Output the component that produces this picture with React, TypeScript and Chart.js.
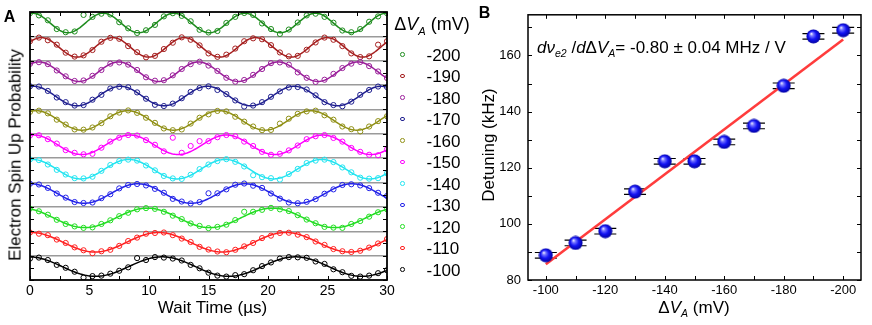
import React, { useEffect, useRef } from "react";
import { Chart, registerables } from "chart.js";
Chart.register(...registerables);

const FONT = '"Liberation Sans", Arial, Helvetica, sans-serif';

// ---------------- Panel A data ----------------
// series from bottom strip to top strip
const voltages = [-100, -110, -120, -130, -140, -150, -160, -170, -180, -190, -200];
const seriesColors = ["#000000", "#ff2020", "#22dd22", "#2323e8", "#22e4f0", "#ff00ff", "#8f8f14", "#1f1f8f", "#9a1f9a", "#a51e1e", "#1e8c1e"];
const waitTimes = [0, 0.75, 1.5, 2.25, 3, 3.75, 4.5, 5.25, 6, 6.75, 7.5, 8.25, 9, 9.75, 10.5, 11.25, 12, 12.75, 13.5, 14.25, 15, 15.75, 16.5, 17.25, 18, 18.75, 19.5, 20.25, 21, 21.75, 22.5, 23.25, 24, 24.75, 25.5, 26.25, 27, 27.75, 28.5, 29.25, 30];
const probM100 = [0.88, 0.92, 0.82, 0.62, 0.50, 0.34, 0.10, 0.16, 0.18, 0.26, 0.38, 0.52, 0.90, 0.82, 0.94, 0.92, 0.88, 0.80, 0.62, 0.48, 0.30, 0.18, 0.14, 0.20, 0.24, 0.40, 0.57, 0.72, 0.88, 0.94, 0.93, 0.91, 0.76, 0.66, 0.44, 0.32, 0.17, 0.14, 0.18, 0.28, 0.40];
const probM110 = [0.95, 0.90, 0.84, 0.66, 0.52, 0.34, 0.22, 0.10, 0.18, 0.24, 0.40, 0.60, 0.74, 0.90, 0.93, 0.95, 0.84, 0.70, 0.56, 0.36, 0.25, 0.17, 0.14, 0.24, 0.38, 0.52, 0.72, 0.82, 0.93, 0.94, 0.86, 0.76, 0.58, 0.44, 0.27, 0.18, 0.15, 0.20, 0.33, 0.50, 0.68];
const probM120 = [0.93, 0.82, 0.68, 0.47, 0.30, 0.20, 0.14, 0.16, 0.30, 0.45, 0.62, 0.76, 0.90, 0.95, 0.92, 0.80, 0.64, 0.50, 0.32, 0.22, 0.13, 0.18, 0.27, 0.46, 0.80, 0.80, 0.88, 0.96, 0.90, 0.83, 0.66, 0.48, 0.33, 0.18, 0.15, 0.14, 0.30, 0.42, 0.60, 0.78, 0.90];
const probM130 = [0.95, 0.92, 0.78, 0.55, 0.38, 0.20, 0.16, 0.18, 0.36, 0.52, 0.76, 0.90, 0.94, 0.88, 0.74, 0.58, 0.33, 0.22, 0.14, 0.20, 0.56, 0.56, 0.72, 0.91, 0.96, 0.87, 0.78, 0.55, 0.34, 0.18, 0.15, 0.21, 0.32, 0.54, 0.72, 0.90, 0.93, 0.88, 0.77, 0.58, 0.45];
const probM140 = [0.95, 0.92, 0.74, 0.52, 0.33, 0.18, 0.17, 0.24, 0.48, 0.72, 0.88, 0.94, 0.90, 0.70, 0.50, 0.27, 0.17, 0.15, 0.32, 0.55, 0.74, 0.88, 0.96, 0.85, 0.66, 0.30, 0.22, 0.18, 0.12, 0.35, 0.56, 0.80, 0.90, 0.94, 0.84, 0.62, 0.42, 0.20, 0.16, 0.18, 0.38];
const probM150 = [0.93, 0.94, 0.78, 0.60, 0.33, 0.22, 0.16, 0.18, 0.43, 0.68, 0.84, 0.95, 0.93, 0.74, 0.55, 0.28, 0.84, 0.22, 0.50, 0.70, 0.70, 0.86, 0.95, 0.90, 0.68, 0.50, 0.26, 0.14, 0.18, 0.32, 0.52, 0.78, 0.90, 0.95, 0.83, 0.68, 0.42, 0.26, 0.14, 0.12, 0.36];
const probM160 = [0.90, 0.95, 0.84, 0.58, 0.38, 0.18, 0.17, 0.26, 0.44, 0.72, 0.87, 0.96, 0.86, 0.66, 0.45, 0.22, 0.15, 0.18, 0.42, 0.66, 0.80, 0.94, 0.92, 0.70, 0.50, 0.30, 0.15, 0.16, 0.42, 0.62, 0.82, 0.92, 0.95, 0.76, 0.58, 0.30, 0.19, 0.10, 0.30, 0.52, 0.72];
const probM170 = [0.95, 0.94, 0.76, 0.49, 0.30, 0.16, 0.18, 0.40, 0.60, 0.86, 0.93, 0.91, 0.70, 0.44, 0.19, 0.14, 0.24, 0.46, 0.72, 0.88, 0.95, 0.80, 0.63, 0.37, 0.12, 0.16, 0.30, 0.52, 0.74, 0.90, 0.92, 0.82, 0.58, 0.30, 0.18, 0.13, 0.32, 0.60, 0.80, 0.94, 0.92];
const probM180 = [0.87, 0.94, 0.86, 0.60, 0.36, 0.17, 0.19, 0.38, 0.62, 0.88, 0.93, 0.84, 0.62, 0.32, 0.18, 0.20, 0.40, 0.66, 0.86, 0.96, 0.80, 0.58, 0.30, 0.14, 0.21, 0.42, 0.66, 0.90, 0.93, 0.84, 0.52, 0.30, 0.13, 0.22, 0.46, 0.70, 0.88, 0.95, 0.78, 0.56, 0.29];
const probM190 = [0.80, 0.95, 0.84, 0.66, 0.33, 0.17, 0.22, 0.44, 0.78, 0.94, 0.90, 0.60, 0.35, 0.14, 0.20, 0.48, 0.74, 0.96, 0.86, 0.63, 0.30, 0.16, 0.25, 0.50, 0.80, 0.92, 0.88, 0.64, 0.34, 0.18, 0.20, 0.45, 0.75, 0.95, 0.86, 0.60, 0.30, 0.15, 0.18, 0.66, 0.80];
const probM200 = [0.95, 0.86, 0.66, 0.30, 0.17, 0.20, 0.88, 0.80, 0.93, 0.90, 0.58, 0.33, 0.14, 0.25, 0.47, 0.82, 0.95, 0.84, 0.62, 0.27, 0.16, 0.22, 0.55, 0.80, 0.96, 0.88, 0.53, 0.30, 0.10, 0.28, 0.57, 0.86, 0.93, 0.80, 0.56, 0.24, 0.17, 0.30, 0.60, 0.82, 0.95];
const probs = [probM100, probM110, probM120, probM130, probM140, probM150, probM160, probM170, probM180, probM190, probM200];
// fitted cosine parameters (period in µs, time of first maximum in µs)
const fitPeriod = [11.2, 10.7, 10.5, 9.0, 8.1, 8.1, 7.7, 7.3, 6.7, 6.0, 5.95];
const fitPeak = [-0.1, 0.1, -0.65, 0.05, 0.2, 0.3, 0.5, 0.3, 0.75, 0.95, 0.2];
const fitOffset = 0.55;
const fitAmp = 0.4;
const aXTicks = [0, 5, 10, 15, 20, 25, 30];
const aXMarks = [0, 2.5, 5, 7.5, 10, 12.5, 15, 17.5, 20, 22.5, 25, 27.5, 30];

// ---------------- Panel B data ----------------
const bVoltage = [-100, -110, -120, -130, -140, -150, -160, -170, -180, -190, -200];
const bDetuning = [88.8, 93.2, 97.4, 111.5, 122.3, 122.3, 129.2, 134.9, 149.2, 166.8, 169.0];
const bErrX = [3.7, 3.7, 3.7, 3.7, 3.7, 3.7, 3.7, 3.7, 3.7, 3.7, 3.7];
const bErrY = [1.0, 1.0, 1.0, 1.0, 1.0, 1.0, 1.0, 1.0, 1.0, 1.0, 1.0];
const fitLineX = [-100, -200];
const fitLineY = [85.6, 165.7];
const bXTicks = [-100, -120, -140, -160, -180, -200];
const bYTicks = [80, 100, 120, 140, 160];
const bXMarks = [-100, -110, -120, -130, -140, -150, -160, -170, -180, -190, -200];
const bYMarks = [80, 90, 100, 110, 120, 130, 140, 150, 160, 170];

const framePlugin = {
  id: "frame",
  afterDraw(chart: any, _args: any, opts: any) {
    const { ctx, chartArea: a, scales } = chart;
    ctx.save();
    ctx.strokeStyle = "#000";
    ctx.lineWidth = 1;
    ctx.beginPath();
    for (const v of opts.xMarks) {
      const x = Math.round(scales.x.getPixelForValue(v)) + 0.5;
      ctx.moveTo(x, a.bottom);
      ctx.lineTo(x, a.bottom - opts.len);
      ctx.moveTo(x, a.top);
      ctx.lineTo(x, a.top + opts.len);
    }
    for (const v of opts.yMarks) {
      const y = Math.round(scales.y.getPixelForValue(v)) + 0.5;
      ctx.moveTo(a.left, y);
      ctx.lineTo(a.left + opts.len, y);
      ctx.moveTo(a.right, y);
      ctx.lineTo(a.right - opts.len, y);
    }
    ctx.stroke();
    ctx.lineWidth = opts.lineWidth;
    ctx.strokeRect(a.left, a.top, a.right - a.left, a.bottom - a.top);
    ctx.restore();
  },
};

const errorBarPlugin = {
  id: "errbars",
  beforeDatasetsDraw(chart: any) {
    const { ctx, scales } = chart;
    ctx.save();
    ctx.strokeStyle = "#000";
    ctx.lineWidth = 1.2;
    ctx.beginPath();
    bVoltage.forEach((v, i) => {
      const x1 = scales.x.getPixelForValue(v - bErrX[i]);
      const x2 = scales.x.getPixelForValue(v + bErrX[i]);
      const xc = scales.x.getPixelForValue(v);
      const yTop = scales.y.getPixelForValue(bDetuning[i] + bErrY[i]);
      const yBot = scales.y.getPixelForValue(bDetuning[i] - bErrY[i]);
      ctx.moveTo(x1, yTop); ctx.lineTo(x2, yTop);
      ctx.moveTo(x1, yBot); ctx.lineTo(x2, yBot);
      ctx.moveTo(xc, yTop); ctx.lineTo(xc, yBot);
    });
    ctx.stroke();
    ctx.restore();
  },
};

function PanelA() {
  const ref = useRef<HTMLCanvasElement>(null);
  useEffect(() => {
    const fineT: number[] = [];
    for (let k = 0; k <= 300; k++) fineT.push(k / 10);
    const datasets: any[] = [];
    voltages.forEach((v, i) => {
      datasets.push({
        label: String(v),
        data: waitTimes.map((t, k) => ({ x: t, y: i + probs[i][k] })),
        borderColor: seriesColors[i],
        backgroundColor: "rgba(0,0,0,0)",
        pointRadius: 2.6,
        pointBorderWidth: 1,
        showLine: false,
      });
      datasets.push({
        label: "fit " + v,
        data: fineT.map((t) => ({ x: t, y: i + fitOffset + fitAmp * Math.cos((2 * Math.PI * (t - fitPeak[i])) / fitPeriod[i]) })),
        borderColor: seriesColors[i],
        borderWidth: 1.5,
        pointRadius: 0,
        showLine: true,
        fill: false,
      });
    });
    const chart = new Chart(ref.current!, {
      type: "scatter",
      data: { datasets },
      plugins: [framePlugin],
      options: {
        animation: false,
        responsive: false,
        maintainAspectRatio: false,
        events: [],
        layout: { padding: { top: 12, right: 13, left: 0, bottom: 0 } },
        plugins: {
          legend: { display: false },
          tooltip: { enabled: false },
          frame: { xMarks: aXMarks, yMarks: Array.from({ length: 23 }, (_, k) => k * 0.5), len: 4, lineWidth: 1.8 },
        } as any,
        scales: {
          x: {
            type: "linear", min: 0, max: 30,
            afterBuildTicks: (s: any) => { s.ticks = aXTicks.map((v) => ({ value: v })); },
            afterFit: (s: any) => { s.height = 45; },
            grid: { display: false, drawTicks: false },
            border: { display: false },
            ticks: { color: "#000", font: { family: FONT, size: 14 }, padding: 3, maxRotation: 0 },
          },
          y: {
            type: "linear", min: 0, max: 11,
            afterBuildTicks: (s: any) => { s.ticks = voltages.slice(1).map((_, k) => ({ value: k + 1 })); },
            afterFit: (s: any) => { s.width = 30; },
            grid: { color: "#9a9a9a", lineWidth: 1.5, drawTicks: false },
            border: { display: false },
            ticks: { display: false },
          },
        },
      } as any,
    });
    return () => chart.destroy();
  }, []);
  return <canvas ref={ref} width={400} height={325} style={{ position: "absolute", left: 0, top: 0 }} />;
}

function makeBall(): HTMLCanvasElement {
  const c = document.createElement("canvas");
  c.width = 15; c.height = 15;
  const g = c.getContext("2d")!;
  const grad = g.createRadialGradient(5.3, 4.8, 0.3, 7.5, 7.5, 7.3);
  grad.addColorStop(0, "#f0f0ff");
  grad.addColorStop(0.2, "#7a7aff");
  grad.addColorStop(0.55, "#1414f5");
  grad.addColorStop(1, "#00009a");
  g.fillStyle = grad;
  g.beginPath();
  g.arc(7.5, 7.5, 7, 0, Math.PI * 2);
  g.fill();
  return c;
}

function PanelB() {
  const ref = useRef<HTMLCanvasElement>(null);
  useEffect(() => {
    const ball = makeBall();
    const chart = new Chart(ref.current!, {
      type: "scatter",
      data: {
        datasets: [
          {
            label: "detuning",
            data: bVoltage.map((v, i) => ({ x: v, y: bDetuning[i] })),
            pointStyle: ball as any,
            pointRadius: 7,
            showLine: false,
          },
          {
            label: "fit",
            data: fitLineX.map((v, i) => ({ x: v, y: fitLineY[i] })),
            borderColor: "#ff3c3c",
            borderWidth: 2.6,
            pointRadius: 0,
            showLine: true,
          },
        ],
      },
      plugins: [framePlugin, errorBarPlugin],
      options: {
        animation: false,
        responsive: false,
        maintainAspectRatio: false,
        events: [],
        layout: { padding: { top: 12, right: 11, left: 0, bottom: 0 } },
        plugins: {
          legend: { display: false },
          tooltip: { enabled: false },
          frame: { xMarks: bXMarks, yMarks: bYMarks, len: 4, lineWidth: 1.5 },
        } as any,
        scales: {
          x: {
            type: "linear", min: -206, max: -94, reverse: true,
            afterBuildTicks: (s: any) => { s.ticks = bXTicks.map((v) => ({ value: v })); },
            afterFit: (s: any) => { s.height = 45; },
            grid: { display: false, drawTicks: false },
            border: { display: false },
            ticks: { color: "#000", font: { family: FONT, size: 13 }, padding: 3, maxRotation: 0 },
          },
          y: {
            type: "linear", min: 80, max: 174.5,
            afterBuildTicks: (s: any) => { s.ticks = bYTicks.map((v) => ({ value: v })); },
            afterFit: (s: any) => { s.width = 58; },
            grid: { display: false, drawTicks: false },
            border: { display: false },
            ticks: { color: "#000", font: { family: FONT, size: 13 }, padding: 7 },
          },
        },
      } as any,
    });
    return () => chart.destroy();
  }, []);
  return <canvas ref={ref} width={402} height={325} style={{ position: "absolute", left: 470, top: 0 }} />;
}

function Txt(props: { x: number; y: number; size: number; bold?: boolean; rotate?: boolean; left?: boolean; children: any }) {
  const { x, y, size, bold, rotate, left, children } = props;
  return (
    <div
      style={{
        position: "absolute",
        left: x,
        top: y,
        transform: `translate(${left ? "0" : "-50%"}, -50%)${rotate ? " rotate(-90deg)" : ""}`,
        fontSize: size,
        lineHeight: 1,
        whiteSpace: "nowrap",
        fontWeight: bold ? "bold" : "normal",
        color: "#000",
      }}
    >
      {children}
    </div>
  );
}

const Sub = ({ children }: { children: any }) => (
  <span style={{ fontSize: "0.62em", fontStyle: "italic", position: "relative", top: "0.42em" }}>{children}</span>
);

export default function App() {
  const legendTop = 54.5;
  const legendStep = 21.5;
  const topToBottom = voltages.map((v, i) => ({ v, c: seriesColors[i] })).reverse();
  return (
    <div style={{ position: "absolute", left: 0, top: 0, width: 872, height: 325, background: "#fff", fontFamily: FONT, overflow: "hidden" }}>
      <PanelA />
      <PanelB />
      <Txt x={9.5} y={16.5} size={16} bold>A</Txt>
      <Txt x={484.5} y={12.5} size={16} bold>B</Txt>
      <Txt x={14.5} y={155} size={17} rotate>Electron Spin Up Probability</Txt>
      <Txt x={212.5} y={307} size={17}>Wait Time (µs)</Txt>
      <Txt x={432} y={24} size={18}>
        Δ<i>V</i><Sub>A</Sub> (mV)
      </Txt>
      {topToBottom.map((e, k) => (
        <React.Fragment key={e.v}>
          <div
            style={{
              position: "absolute",
              left: 402.7 - 2.3,
              top: legendTop + k * legendStep - 2.3,
              width: 4.6,
              height: 4.6,
              boxSizing: "border-box",
              border: `1px solid ${e.c}`,
              borderRadius: "50%",
            }}
          />
          <Txt x={426.5} y={legendTop + k * legendStep} size={17} left>
            {String(e.v)}
          </Txt>
        </React.Fragment>
      ))}
      <Txt x={488} y={145} size={17} rotate>Detuning (kHz)</Txt>
      <Txt x={694} y={307} size={17}>
        Δ<i>V</i><Sub>A</Sub> (mV)
      </Txt>
      <Txt x={537} y={47} size={17} left>
        <i>d</i><i>ν</i><Sub>e2</Sub> /<i>d</i>Δ<i>V</i><Sub>A</Sub>= -0.80 ± 0.04 MHz / V
      </Txt>
    </div>
  );
}
